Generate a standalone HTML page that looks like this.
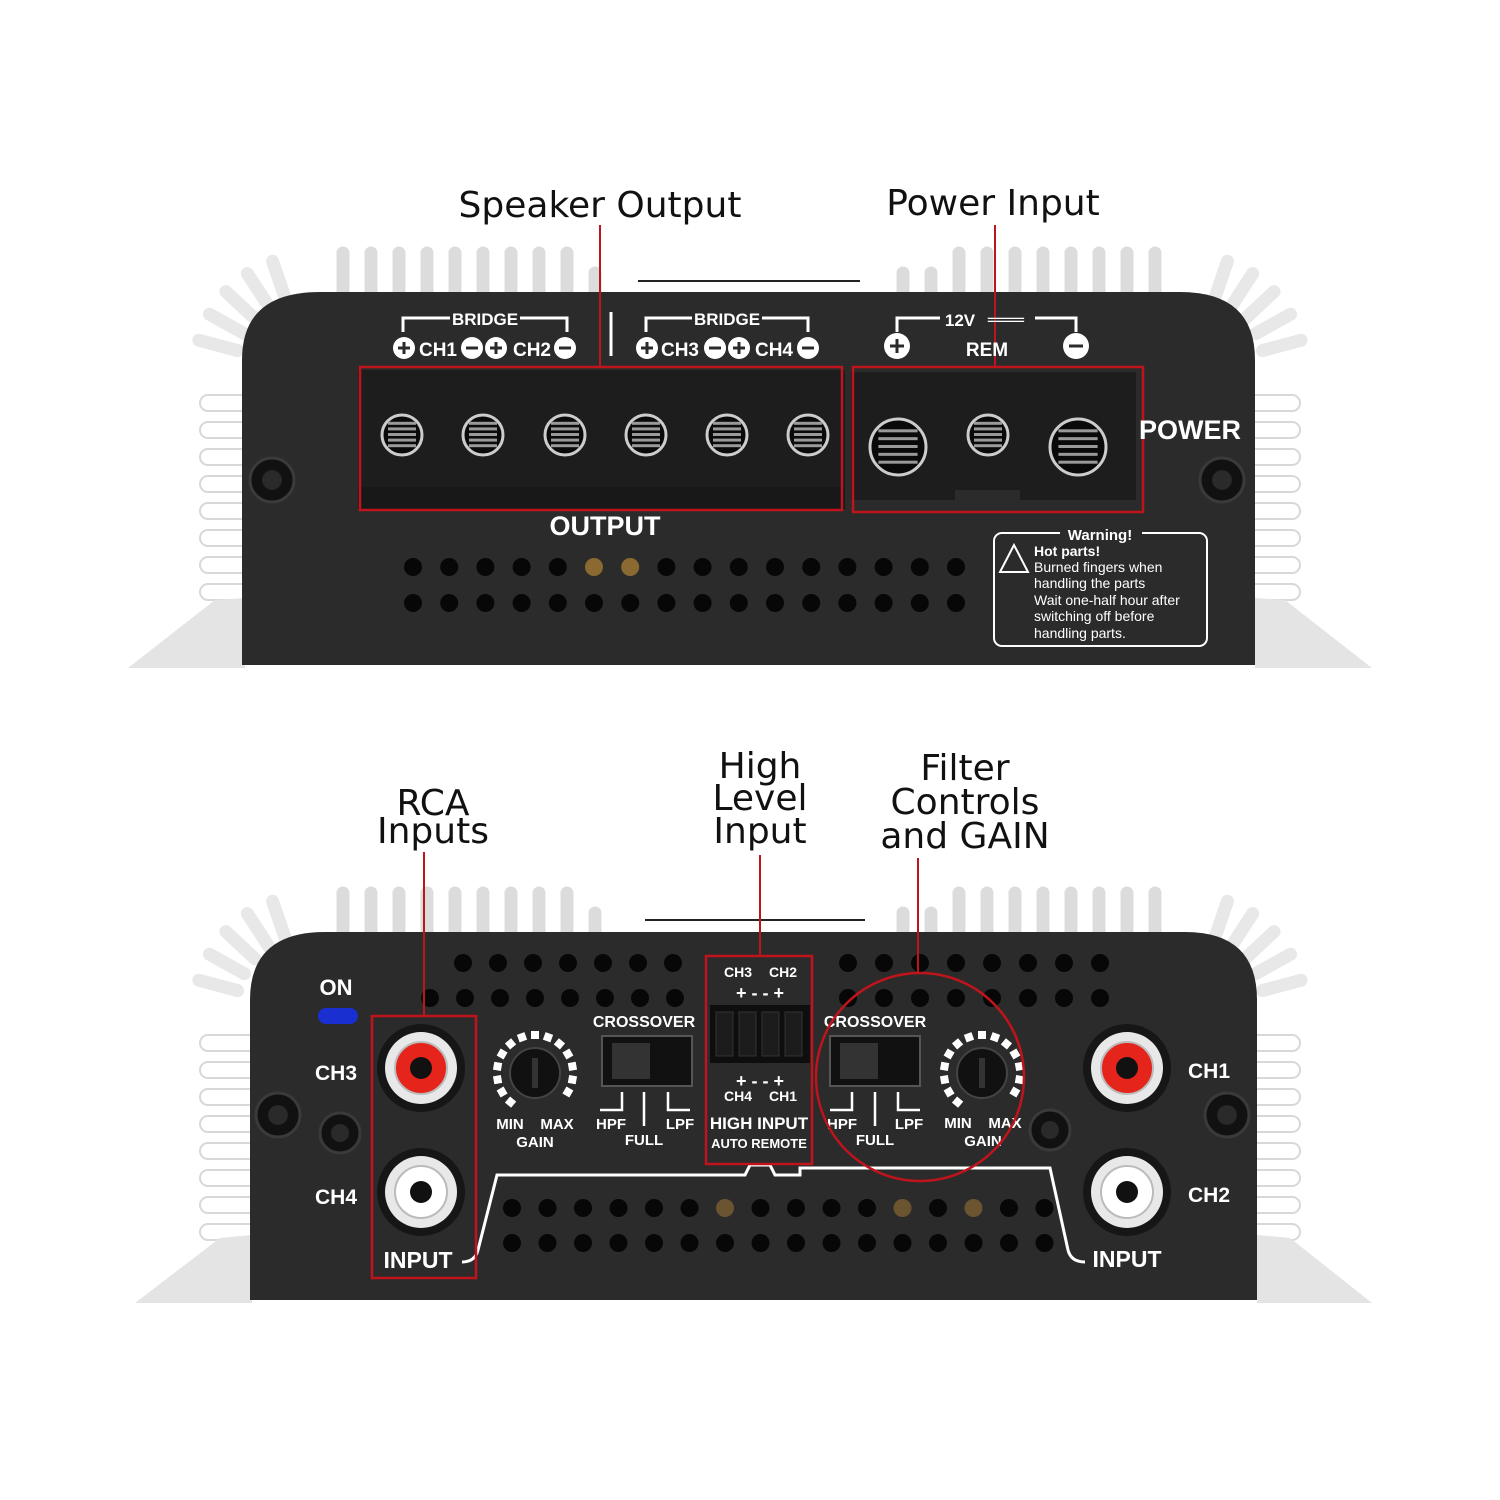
<!DOCTYPE html>
<html><head><meta charset="utf-8"><style>
html,body{margin:0;padding:0;background:#fff;}
svg{display:block}
text{font-family:"Liberation Sans",sans-serif;}
.lbl{font-family:"DejaVu Sans","Liberation Sans",sans-serif;font-size:36px;fill:#111;text-anchor:middle}
.w{fill:#fff;font-weight:bold;text-anchor:middle}
</style></head><body>
<svg id="s" width="1500" height="1500" viewBox="0 0 1500 1500" xmlns="http://www.w3.org/2000/svg">
<g id="fins"></g>
<polygon points="128,668 245,668 245,598 215,600" fill="#e4e4e4"/>
<polygon points="1372,668 1255,668 1255,598 1285,600" fill="#e4e4e4"/>
<polygon points="135,1303 252,1303 252,1235 220,1238" fill="#e4e4e4"/>
<polygon points="1372,1303 1257,1303 1257,1235 1290,1238" fill="#e4e4e4"/>
<path d="M242,665 L242,360 Q242,292 320,292 L1180,292 Q1255,292 1255,360 L1255,665 Z" fill="#2b2b2b"/>
<path d="M250,1300 L250,1000 Q250,932 325,932 L1185,932 Q1257,932 1257,1000 L1257,1300 Z" fill="#2b2b2b"/>
<line x1="638" y1="281" x2="860" y2="281" stroke="#222" stroke-width="2"/>
<line x1="645" y1="920" x2="865" y2="920" stroke="#222" stroke-width="2"/>
<g id="dyn"></g>

<text x="600" y="217" class="lbl">Speaker Output</text>
<text x="993" y="215" class="lbl">Power Input</text>
<line x1="600" y1="225" x2="600" y2="368" stroke="#c0141c" stroke-width="2"/>
<line x1="995" y1="225" x2="995" y2="368" stroke="#c0141c" stroke-width="2"/>

<g fill="none" stroke="#fff" stroke-width="3">
<path d="M403,332 V318 H450 M520,318 H567 V332"/>
<path d="M646,332 V318 H692 M762,318 H808 V332"/>
<path d="M897,332 V318 H940 M1035,318 H1076 V332"/>
<line x1="611" y1="312" x2="611" y2="356"/>
</g>
<text x="485" y="325" class="w" font-size="17">BRIDGE</text>
<text x="727" y="325" class="w" font-size="17">BRIDGE</text>
<text x="960" y="326" class="w" font-size="17">12V</text>
<text x="1006" y="325" class="w" font-size="17">═══</text>
<text x="987" y="356" class="w" font-size="19">REM</text>
<text x="438" y="356" class="w" font-size="19">CH1</text>
<text x="532" y="356" class="w" font-size="19">CH2</text>
<text x="680" y="356" class="w" font-size="19">CH3</text>
<text x="774" y="356" class="w" font-size="19">CH4</text>
<g fill="#fff">
<circle cx="404" cy="348" r="11"/><circle cx="472" cy="348" r="11"/><circle cx="496" cy="348" r="11"/><circle cx="565" cy="348" r="11"/>
<circle cx="647" cy="348" r="11"/><circle cx="715" cy="348" r="11"/><circle cx="739" cy="348" r="11"/><circle cx="808" cy="348" r="11"/>
<circle cx="897" cy="346" r="13"/><circle cx="1076" cy="346" r="13"/>
</g>
<g stroke="#2b2b2b" stroke-width="3">
<path d="M398,348h12M404,342v12M466,348h12M490,348h12M496,342v12M559,348h12M641,348h12M647,342v12M709,348h12M733,348h12M739,342v12M802,348h12M890,346h14M897,339v14M1069,346h14"/>
</g>

<rect x="358" y="370" width="487" height="125" fill="#1d1d1d"/>
<rect x="358" y="487" width="487" height="22" fill="#181818"/>
<rect x="851" y="372" width="285" height="128" fill="#1d1d1d"/>
<rect x="955" y="490" width="65" height="22" fill="#2b2b2b"/>
<rect x="360" y="367" width="482" height="143" fill="none" stroke="#c0141c" stroke-width="2.5"/>
<rect x="853" y="367" width="290" height="145" fill="none" stroke="#c0141c" stroke-width="2.5"/>
<text x="605" y="535" class="w" font-size="27">OUTPUT</text>
<text x="1190" y="439" class="w" font-size="27">POWER</text>

<rect x="994" y="533" width="213" height="113" rx="8" fill="none" stroke="#fff" stroke-width="2"/>
<rect x="1060" y="525" width="82" height="16" fill="#2b2b2b"/>
<text x="1100" y="540" class="w" font-size="15">Warning!</text>
<polygon points="1014,545 1000,572 1028,572" fill="none" stroke="#fff" stroke-width="2"/>
<g fill="#fff" font-size="14">
<text x="1034" y="556" font-weight="bold">Hot parts!</text>
<text x="1034" y="572">Burned fingers when</text>
<text x="1034" y="588">handling the parts</text>
<text x="1034" y="605">Wait one-half hour after</text>
<text x="1034" y="621">switching off before</text>
<text x="1034" y="638">handling parts.</text>
</g>

<text x="433" y="815" class="lbl">RCA</text>
<text x="433" y="843" class="lbl">Inputs</text>
<text x="760" y="778" class="lbl">High</text>
<text x="760" y="810" class="lbl">Level</text>
<text x="760" y="843" class="lbl">Input</text>
<text x="965" y="780" class="lbl">Filter</text>
<text x="965" y="814" class="lbl">Controls</text>
<text x="965" y="848" class="lbl">and GAIN</text>
<line x1="424" y1="852" x2="424" y2="1016" stroke="#c0141c" stroke-width="2"/>
<line x1="760" y1="855" x2="760" y2="956" stroke="#c0141c" stroke-width="2"/>
<line x1="918" y1="858" x2="918" y2="972" stroke="#c0141c" stroke-width="2"/>

<text x="336" y="995" class="w" font-size="22">ON</text>
<rect x="318" y="1008" width="40" height="16" rx="8" fill="#1a2fd0"/>
<text x="336" y="1080" class="w" font-size="21">CH3</text>
<text x="336" y="1204" class="w" font-size="21">CH4</text>
<text x="1209" y="1078" class="w" font-size="21">CH1</text>
<text x="1209" y="1202" class="w" font-size="21">CH2</text>
<text x="418" y="1268" class="w" font-size="23">INPUT</text>
<text x="1127" y="1267" class="w" font-size="23">INPUT</text>
<path d="M462,1262 Q475,1262 478,1250 L497,1175 L745,1175 L750,1165 L770,1165 L775,1175 L800,1175 L800,1168 L1050,1168 L1068,1250 Q1071,1262 1085,1262" fill="none" stroke="#fff" stroke-width="3"/>

<g fill="#fff" font-weight="bold" text-anchor="middle">
<text x="644" y="1027" font-size="16">CROSSOVER</text>
<text x="875" y="1027" font-size="16">CROSSOVER</text>
<text x="611" y="1129" font-size="15">HPF</text><text x="680" y="1129" font-size="15">LPF</text><text x="644" y="1145" font-size="15">FULL</text>
<text x="842" y="1129" font-size="15">HPF</text><text x="909" y="1129" font-size="15">LPF</text><text x="875" y="1145" font-size="15">FULL</text>
<text x="510" y="1129" font-size="15">MIN</text><text x="557" y="1129" font-size="15">MAX</text><text x="535" y="1147" font-size="15">GAIN</text>
<text x="958" y="1128" font-size="15">MIN</text><text x="1005" y="1128" font-size="15">MAX</text><text x="983" y="1146" font-size="15">GAIN</text>
<text x="759" y="1129" font-size="17">HIGH INPUT</text>
<text x="759" y="1148" font-size="13">AUTO REMOTE</text>
<text x="738" y="977" font-size="14">CH3</text><text x="783" y="977" font-size="14">CH2</text>
<text x="738" y="1101" font-size="14">CH4</text><text x="783" y="1101" font-size="14">CH1</text>
<text x="760" y="999" font-size="18">+ - - +</text>
<text x="760" y="1087" font-size="18">+ - - +</text>
</g>
<g fill="none" stroke="#fff" stroke-width="2.5">
<path d="M600,1110 h22 v-18 M644,1092 v34 M668,1092 v18 h22"/>
<path d="M830,1110 h22 v-18 M875,1092 v34 M898,1092 v18 h22"/>
</g>
<rect x="602" y="1036" width="90" height="50" fill="#111" stroke="#555" stroke-width="2"/>
<rect x="612" y="1043" width="38" height="36" fill="#333"/>
<rect x="830" y="1036" width="90" height="50" fill="#111" stroke="#555" stroke-width="2"/>
<rect x="840" y="1043" width="38" height="36" fill="#333"/>
<rect x="710" y="1005" width="100" height="58" fill="#0e0e0e"/>
<g id="top"></g>
<rect x="372" y="1016" width="104" height="262" fill="none" stroke="#c0141c" stroke-width="2.5"/>
<rect x="706" y="956" width="106" height="208" fill="none" stroke="#c0141c" stroke-width="2.5"/>
<circle cx="920" cy="1077" r="104" fill="none" stroke="#c0141c" stroke-width="2.5"/>
</svg>
<script>
var NS="http://www.w3.org/2000/svg";
function el(p,t,a){var e=document.createElementNS(NS,t);for(var k in a)e.setAttribute(k,a[k]);p.appendChild(e);return e;}
var f=document.getElementById('fins'),d=document.getElementById('dyn'),tp=document.getElementById('top');
function fins(oy){
  for(var y=oy+395;y<oy+660;y+=27){el(f,'rect',{x:200,y:y,width:60,height:16,rx:8,fill:'#fff',stroke:'#d8d8d8','stroke-width':2});}
  for(var y=oy+395;y<oy+660;y+=27){el(f,'rect',{x:1240,y:y,width:60,height:16,rx:8,fill:'#fff',stroke:'#d8d8d8','stroke-width':2});}
  for(var x=335;x<610;x+=28){var h=x>560?25:45;el(f,'rect',{x:x,y:oy+295-h-5,width:16,height:h+20,rx:8,fill:'#dcdcdc',stroke:'#fff','stroke-width':3});}
  for(var x=895;x<1175;x+=28){var h=x<930?25:45;el(f,'rect',{x:x,y:oy+295-h-5,width:16,height:h+20,rx:8,fill:'#dcdcdc',stroke:'#fff','stroke-width':3});}
  for(var a=195;a<265;a+=14){
    [[310,oy+370,1],[1190,oy+370,-1]].forEach(function(c){
      var ang=c[2]>0?a:540-a;var rr=ang*Math.PI/180;
      var cx=c[0]+Math.cos(rr)*95,cy=c[1]+Math.sin(rr)*95;
      el(f,'rect',{x:cx-28,y:cy-8,width:56,height:16,rx:8,fill:'#e8e8e8',stroke:'#fff','stroke-width':3,transform:'rotate('+ang+' '+cx+' '+cy+')'});
    });}
}
fins(0);fins(640);
function hole(x,y,r,c){el(d,'circle',{cx:x,cy:y,r:r||9,fill:c||'#070707'});}
for(var i=0;i<16;i++){var x=413+i*36.2;hole(x,567,9,(i==5||i==6)?'#8a6a30':null);hole(x,603);}
for(var i=0;i<7;i++){hole(463+i*35,963);}
for(var i=0;i<8;i++){hole(430+i*35,998);}
for(var i=0;i<8;i++){hole(848+i*36,963);hole(848+i*36,998);}
for(var i=0;i<16;i++){var x=512+i*35.5;hole(x,1208,9,(i==6||i==11||i==13)?'#6a5530':null);hole(x,1243);}
function screw(x,y,r){el(tp,'circle',{cx:x,cy:y,r:r,fill:'#111',stroke:'#3a3a3a','stroke-width':3});el(tp,'circle',{cx:x,cy:y,r:r*0.45,fill:'#2a2a2a'});}
screw(272,480,22);screw(1222,480,22);screw(278,1115,22);screw(340,1133,20);screw(1050,1130,20);screw(1227,1115,22);
function term(x,y,r){el(tp,'circle',{cx:x,cy:y,r:r,fill:'#0a0a0a',stroke:'#ccc','stroke-width':3});
  for(var k=-2;k<=2;k++)el(tp,'rect',{x:x-r*0.7,y:y+k*r*0.28-2,width:r*1.4,height:3,fill:'#999'});}
[402,483,565,646,727,808].forEach(function(x){term(x,435,20);});
term(898,447,28);term(988,435,20);term(1078,447,28);
function rca(x,y,red){el(tp,'circle',{cx:x,cy:y,r:44,fill:'#161616'});el(tp,'circle',{cx:x,cy:y,r:36,fill:'#e8e8e8'});
  el(tp,'circle',{cx:x,cy:y,r:26,fill:red?'#e5251b':'#fff',stroke:'#bbb','stroke-width':2});el(tp,'circle',{cx:x,cy:y,r:11,fill:'#111'});}
rca(421,1068,1);rca(421,1192,0);rca(1127,1068,1);rca(1127,1192,0);
function knob(x,y){for(var i=0;i<14;i++){var g=130+i*20,a=g*Math.PI/180,px=x+Math.cos(a)*38,py=y+Math.sin(a)*38;el(tp,'rect',{x:px-4,y:py-4,width:8,height:8,fill:'#fff',transform:'rotate('+g+' '+px+' '+py+')'});}
  el(tp,'circle',{cx:x,cy:y,r:25,fill:'#111',stroke:'#444','stroke-width':2});el(tp,'rect',{x:x-3,y:y-15,width:6,height:30,fill:'#333'});}
knob(535,1073);knob(982,1073);
for(var i=0;i<4;i++){el(tp,'rect',{x:716+i*23,y:1012,width:17,height:44,fill:'#1c1c1c',stroke:'#333'});}
</script>
</body></html>
